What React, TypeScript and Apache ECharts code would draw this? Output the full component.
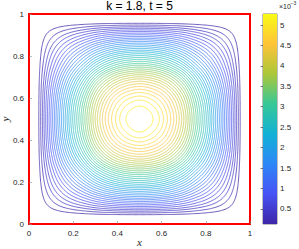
import React, { useEffect, useRef } from 'react';
import * as echarts from 'echarts';

const TITLE = 'k = 1.8, t = 5';
const X_NAME = 'x';
const Y_NAME = 'y';
// centre-line profile of the field (units 1e-3), half domain, symmetric about 0.5
const profileX = [0, 0.035, 0.045, 0.1, 0.15, 0.2, 0.25, 0.3, 0.35, 0.4, 0.45, 0.5];
const profileV = [0, 0, 0.14, 1.05, 1.85, 2.6, 3.3, 4.0, 4.55, 4.95, 5.18, 5.27];
// contour levels (units 1e-3)
const levels = [
  0.13, 0.26, 0.39, 0.51, 0.64, 0.77, 0.9, 1.03, 1.16, 1.29, 1.41, 1.54, 1.67, 1.8,
  1.93, 2.06, 2.19, 2.31, 2.44, 2.57, 2.7, 2.83, 2.96, 3.09, 3.21, 3.34, 3.47, 3.6,
  3.73, 3.86, 3.99, 4.11, 4.24, 4.37, 4.5, 4.63, 4.76, 4.89, 5.01, 5.14,
];
const colorbarMin = 0.13;
const colorbarMax = 5.27;
const colorbarTicks = [0.5, 1, 1.5, 2, 2.5, 3, 3.5, 4, 4.5, 5];
const parula = ['#3E26A8', '#4752F4', '#2D87F7', '#12B1D6', '#37C897', '#ABC739', '#FEC338', '#F9FB15'];

function makeInterp(xs: number[], ys: number[]) {
  const n = xs.length;
  const d: number[] = [];
  const m: number[] = [];
  for (let i = 0; i < n - 1; i++) d[i] = (ys[i + 1] - ys[i]) / (xs[i + 1] - xs[i]);
  m[0] = d[0];
  m[n - 1] = 0;
  for (let i = 1; i < n - 1; i++) m[i] = d[i - 1] * d[i] <= 0 ? 0 : (d[i - 1] + d[i]) / 2;
  for (let i = 0; i < n - 1; i++) {
    if (d[i] === 0) {
      m[i] = 0;
      m[i + 1] = 0;
    } else {
      const a = m[i] / d[i];
      const b = m[i + 1] / d[i];
      const s = a * a + b * b;
      if (s > 9) {
        const t = 3 / Math.sqrt(s);
        m[i] = t * a * d[i];
        m[i + 1] = t * b * d[i];
      }
    }
  }
  return (x: number) => {
    if (x <= xs[0]) return ys[0];
    if (x >= xs[n - 1]) return ys[n - 1];
    let i = 0;
    while (i < n - 2 && x > xs[i + 1]) i++;
    const h = xs[i + 1] - xs[i];
    const t = (x - xs[i]) / h;
    const t2 = t * t;
    const t3 = t2 * t;
    return (
      (2 * t3 - 3 * t2 + 1) * ys[i] +
      (t3 - 2 * t2 + t) * h * m[i] +
      (-2 * t3 + 3 * t2) * ys[i + 1] +
      (t3 - t2) * h * m[i + 1]
    );
  };
}

const prof = makeInterp(profileX, profileV);
const peak = prof(0.5);
const field = (x: number, y: number) => (prof(Math.min(x, 1 - x)) * prof(Math.min(y, 1 - y))) / peak;

function hexToRgb(h: string) {
  return [parseInt(h.slice(1, 3), 16), parseInt(h.slice(3, 5), 16), parseInt(h.slice(5, 7), 16)];
}
function colorOf(v: number) {
  let t = (v - colorbarMin) / (colorbarMax - colorbarMin);
  t = Math.max(0, Math.min(1, t));
  const p = t * (parula.length - 1);
  const i = Math.min(parula.length - 2, Math.floor(p));
  const f = p - i;
  const a = hexToRgb(parula[i]);
  const b = hexToRgb(parula[i + 1]);
  const c = a.map((av, k) => Math.round(av + (b[k] - av) * f));
  return `rgb(${c[0]},${c[1]},${c[2]})`;
}

export default function App() {
  const ref = useRef<HTMLDivElement>(null);
  useEffect(() => {
    if (!ref.current) return;
    const chart = echarts.init(ref.current, null, { renderer: 'svg' });
    const font = 'Liberation Sans';
    chart.setOption({
      animation: false,
      backgroundColor: '#ffffff',
      graphic: [
        {
          type: 'text',
          x: 139.5,
          y: 0,
          style: { text: TITLE, font: `12px "${font}"`, fill: '#000', align: 'center', verticalAlign: 'top' },
        },
        {
          type: 'text',
          x: 279,
          y: 3,
          style: { text: '×10', font: `7px "${font}"`, fill: '#262626', align: 'left', verticalAlign: 'top' },
        },
        {
          type: 'text',
          x: 290.5,
          y: 0.5,
          style: { text: '−3', font: `5px "${font}"`, fill: '#262626', align: 'left', verticalAlign: 'top' },
        },
        {
          type: 'text',
          x: 139.5,
          y: 242,
          style: {
            text: X_NAME,
            font: `italic 11px "Liberation Serif"`,
            fill: '#262626',
            align: 'center',
            verticalAlign: 'middle',
          },
        },
        {
          type: 'text',
          x: 5,
          y: 119,
          rotation: Math.PI / 2,
          style: {
            text: Y_NAME,
            font: `italic 11px "Liberation Serif"`,
            fill: '#262626',
            align: 'center',
            verticalAlign: 'middle',
          },
        },
      ],
      grid: [
        {
          left: 29,
          top: 14,
          width: 221,
          height: 210,
          show: true,
          borderColor: '#ff0000',
          borderWidth: 2,
          outerBoundsMode: 'none',
          containLabel: false,
        },
        {
          left: 263,
          top: 14,
          width: 14,
          height: 210,
          show: true,
          borderColor: '#262626',
          borderWidth: 0.6,
          outerBoundsMode: 'none',
          containLabel: false,
        },
      ],
      xAxis: [
        {
          gridIndex: 0,
          type: 'value',
          min: 0,
          max: 1,
          interval: 0.2,
          axisLine: { show: false },
          axisTick: { show: true, inside: true, length: 3, lineStyle: { color: '#8c8c8c', width: 0.6 } },
          axisLabel: { fontSize: 8, fontFamily: font, color: '#262626', margin: 5 },
          splitLine: { show: false },
        },
        { gridIndex: 1, type: 'value', min: 0, max: 1, show: false },
      ],
      yAxis: [
        {
          gridIndex: 0,
          type: 'value',
          min: 0,
          max: 1,
          interval: 0.2,
          axisLine: { show: false },
          axisTick: { show: true, inside: true, length: 3, lineStyle: { color: '#8c8c8c', width: 0.6 } },
          axisLabel: { fontSize: 8, fontFamily: font, color: '#262626', margin: 5 },
          splitLine: { show: false },
        },
        {
          gridIndex: 1,
          type: 'value',
          position: 'right',
          min: colorbarMin,
          max: colorbarMax,
          axisLine: { show: false },
          axisTick: {
            show: true,
            inside: true,
            length: 2.5,
            customValues: colorbarTicks,
            lineStyle: { color: '#262626', width: 0.6 },
          },
          axisLabel: {
            customValues: colorbarTicks,
            fontSize: 8,
            fontFamily: font,
            color: '#262626',
            margin: 3,
            formatter: (v: number) => String(v),
          },
          splitLine: { show: false },
        },
      ],
      series: [
        {
          type: 'custom',
          coordinateSystem: 'cartesian2d',
          xAxisIndex: 0,
          yAxisIndex: 0,
          silent: true,
          data: levels.map((l) => [0.5, 0.5, l]),
          renderItem: (_params: any, api: any) => {
            const L = api.value(2);
            const pts: number[][] = [];
            const N = 720;
            for (let k = 0; k <= N; k++) {
              const th = (2 * Math.PI * k) / N;
              const c = Math.cos(th);
              const s = Math.sin(th);
              const rmax = 0.5 / Math.max(Math.abs(c), Math.abs(s));
              let lo = 0;
              let hi = rmax;
              for (let it = 0; it < 40; it++) {
                const mid = (lo + hi) / 2;
                if (field(0.5 + mid * c, 0.5 + mid * s) > L) lo = mid;
                else hi = mid;
              }
              pts.push(api.coord([0.5 + lo * c, 0.5 + lo * s]));
            }
            return {
              type: 'polyline',
              shape: { points: pts },
              style: { stroke: colorOf(L), fill: null, lineWidth: 0.8, opacity: 0.95 },
            };
          },
        },
        {
          type: 'custom',
          coordinateSystem: 'cartesian2d',
          xAxisIndex: 1,
          yAxisIndex: 1,
          silent: true,
          data: [[0, colorbarMin]],
          renderItem: (_params: any, api: any) => {
            const p1 = api.coord([0, colorbarMax]);
            const p2 = api.coord([1, colorbarMin]);
            return {
              type: 'rect',
              shape: { x: p1[0], y: p1[1], width: p2[0] - p1[0], height: p2[1] - p1[1] },
              style: {
                fill: {
                  type: 'linear',
                  x: 0,
                  y: 1,
                  x2: 0,
                  y2: 0,
                  colorStops: parula.map((c, i) => ({ offset: i / (parula.length - 1), color: c })),
                },
              },
            };
          },
        },
      ],
    });
    return () => chart.dispose();
  }, []);
  return <div ref={ref} style={{ position: 'fixed', left: 0, top: 0, width: 299, height: 249 }} />;
}
